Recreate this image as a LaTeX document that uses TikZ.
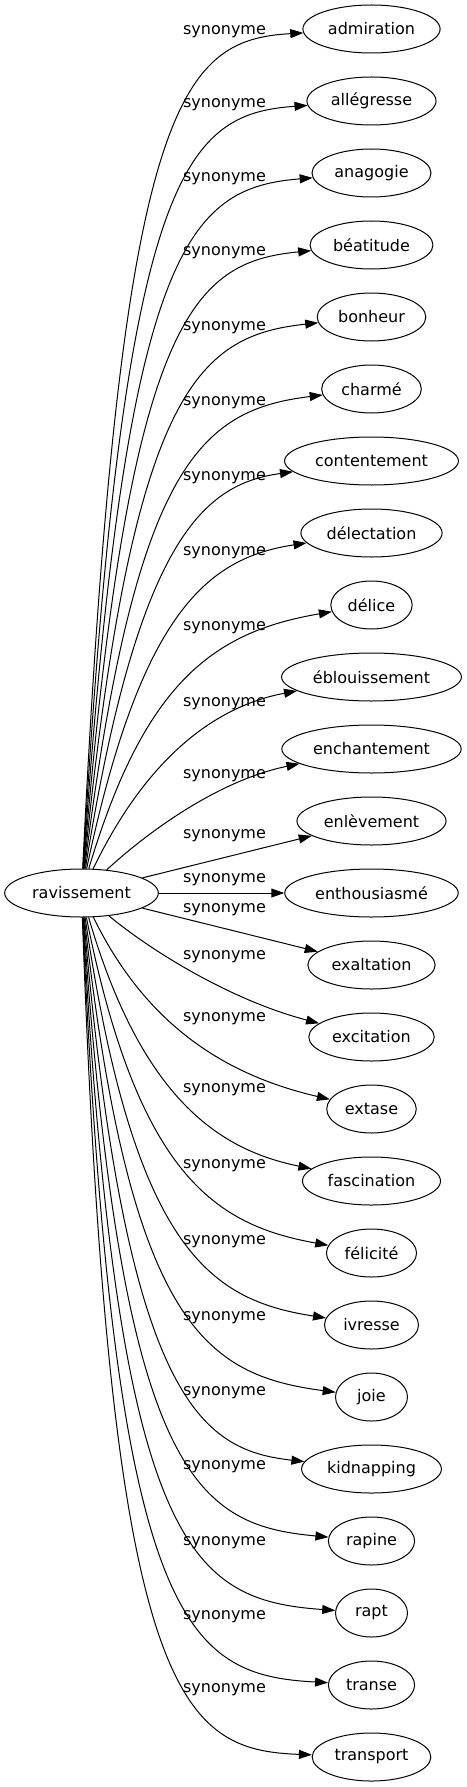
\documentclass[tikz,border=0pt]{standalone}
\usepackage{fontspec}
\setmainfont{DejaVu Sans}
\usepackage{tikz}
\usetikzlibrary{arrows.meta,shapes.geometric}

\begin{document}
\begin{tikzpicture}[x=1pt,y=1pt]

		\tikzset{vertex/.style = {shape=ellipse,draw,line width=1pt,minimum width=72pt,minimum height=48pt,inner xsep=5pt,font=\fontsize{16pt}{19pt}\selectfont}}
		\tikzset{lbl/.style = {inner sep=0pt,font=\fontsize{16pt}{19pt}\selectfont}}
		\tikzset{edge/.style = {->,> = {Triangle[length=13pt,width=9pt]},line width=1pt}}
		\useasboundingbox (0,0) rectangle (466,-1787);
		% vertices
		% Source node
		\node[vertex] (0) at (81.5,-893) {ravissement};
		% Target nodes
		\node[vertex] (1) at (371.5,-29) {admiration};
		\node[vertex] (2) at (371.5,-101) {allégresse};
		\node[vertex] (3) at (371.5,-173) {anagogie};
		\node[vertex] (4) at (371.5,-245) {béatitude};
		\node[vertex] (5) at (371.5,-317) {bonheur};
		\node[vertex] (6) at (371.5,-389) {charmé};
		\node[vertex] (7) at (371.5,-461) {contentement};
		\node[vertex] (8) at (371.5,-533) {délectation};
		\node[vertex] (9) at (371.5,-605) {délice};
		\node[vertex] (10) at (371.5,-677) {éblouissement};
		\node[vertex] (11) at (371.5,-749) {enchantement};
		\node[vertex] (12) at (371.5,-821) {enlèvement};
		\node[vertex] (13) at (371.5,-893) {enthousiasmé};
		\node[vertex] (14) at (371.5,-965) {exaltation};
		\node[vertex] (15) at (371.5,-1037) {excitation};
		\node[vertex] (16) at (371.5,-1109) {extase};
		\node[vertex] (17) at (371.5,-1181) {fascination};
		\node[vertex] (18) at (371.5,-1253) {félicité};
		\node[vertex] (19) at (371.5,-1325) {ivresse};
		\node[vertex] (20) at (371.5,-1397) {joie};
		\node[vertex] (21) at (371.5,-1469) {kidnapping};
		\node[vertex] (22) at (371.5,-1541) {rapine};
		\node[vertex] (23) at (371.5,-1613) {rapt};
		\node[vertex] (24) at (371.5,-1685) {transe};
		\node[vertex] (25) at (371.5,-1757) {transport};

		% labels
		\node[lbl] (l1) at (224.5,-32) {synonyme};
		\node[lbl] (l2) at (224.5,-105) {synonyme};
		\node[lbl] (l3) at (224.5,-179) {synonyme};
		\node[lbl] (l4) at (224.5,-253) {synonyme};
		\node[lbl] (l5) at (224.5,-328) {synonyme};
		\node[lbl] (l6) at (224.5,-403) {synonyme};
		\node[lbl] (l7) at (224.5,-478) {synonyme};
		\node[lbl] (l8) at (224.5,-553) {synonyme};
		\node[lbl] (l9) at (224.5,-628) {synonyme};
		\node[lbl] (l10) at (224.5,-704) {synonyme};
		\node[lbl] (l11) at (224.5,-776) {synonyme};
		\node[lbl] (l12) at (224.5,-836) {synonyme};
		\node[lbl] (l13) at (224.5,-880) {synonyme};
		\node[lbl] (l14) at (224.5,-910) {synonyme};
		\node[lbl] (l15) at (224.5,-957) {synonyme};
		\node[lbl] (l16) at (224.5,-1019) {synonyme};
		\node[lbl] (l17) at (224.5,-1090) {synonyme};
		\node[lbl] (l18) at (224.5,-1166) {synonyme};
		\node[lbl] (l19) at (224.5,-1242) {synonyme};
		\node[lbl] (l20) at (224.5,-1318) {synonyme};
		\node[lbl] (l21) at (224.5,-1393) {synonyme};
		\node[lbl] (l22) at (224.5,-1467) {synonyme};
		\node[lbl] (l23) at (224.5,-1543) {synonyme};
		\node[lbl] (l24) at (224.5,-1617) {synonyme};
		\node[lbl] (l25) at (224.5,-1690) {synonyme};

		%edges
		% Upper edges
		\draw[edge] (0) .. controls (120,-100) and (180,-40) .. (1);
		\draw[edge] (0) .. controls (123,-173) and (184,-114) .. (2);
		\draw[edge] (0) .. controls (126,-246) and (188,-188) .. (3);
		\draw[edge] (0) .. controls (129,-319) and (192,-262) .. (4);
		\draw[edge] (0) .. controls (132,-392) and (196,-336) .. (5);
		\draw[edge] (0) .. controls (135,-465) and (200,-410) .. (6);
		\draw[edge] (0) .. controls (138,-538) and (204,-484) .. (7);
		\draw[edge] (0) .. controls (141,-611) and (208,-558) .. (8);
		\draw[edge] (0) .. controls (144,-684) and (212,-632) .. (9);
		\draw[edge] (0) .. controls (147,-757) and (216,-706) .. (10);
		\draw[edge] (0) .. controls (150,-830) and (220,-780) .. (11);
		% Middle edges
		\draw[edge] (0) -- (12);
		\draw[edge] (0) -- (13);
		\draw[edge] (0) -- (14);
		% Lower edges
		\draw[edge] (0) .. controls (150,-950) and (230,-1000) .. (15);
		\draw[edge] (0) .. controls (146,-1025) and (225,-1075) .. (16);
		\draw[edge] (0) .. controls (142,-1100) and (220,-1150) .. (17);
		\draw[edge] (0) .. controls (138,-1175) and (215,-1225) .. (18);
		\draw[edge] (0) .. controls (134,-1250) and (210,-1300) .. (19);
		\draw[edge] (0) .. controls (130,-1325) and (205,-1375) .. (20);
		\draw[edge] (0) .. controls (126,-1400) and (200,-1450) .. (21);
		\draw[edge] (0) .. controls (122,-1475) and (195,-1525) .. (22);
		\draw[edge] (0) .. controls (118,-1550) and (190,-1600) .. (23);
		\draw[edge] (0) .. controls (114,-1625) and (185,-1675) .. (24);
		\draw[edge] (0) .. controls (110,-1700) and (180,-1750) .. (25);

\end{tikzpicture}
\end{document}
